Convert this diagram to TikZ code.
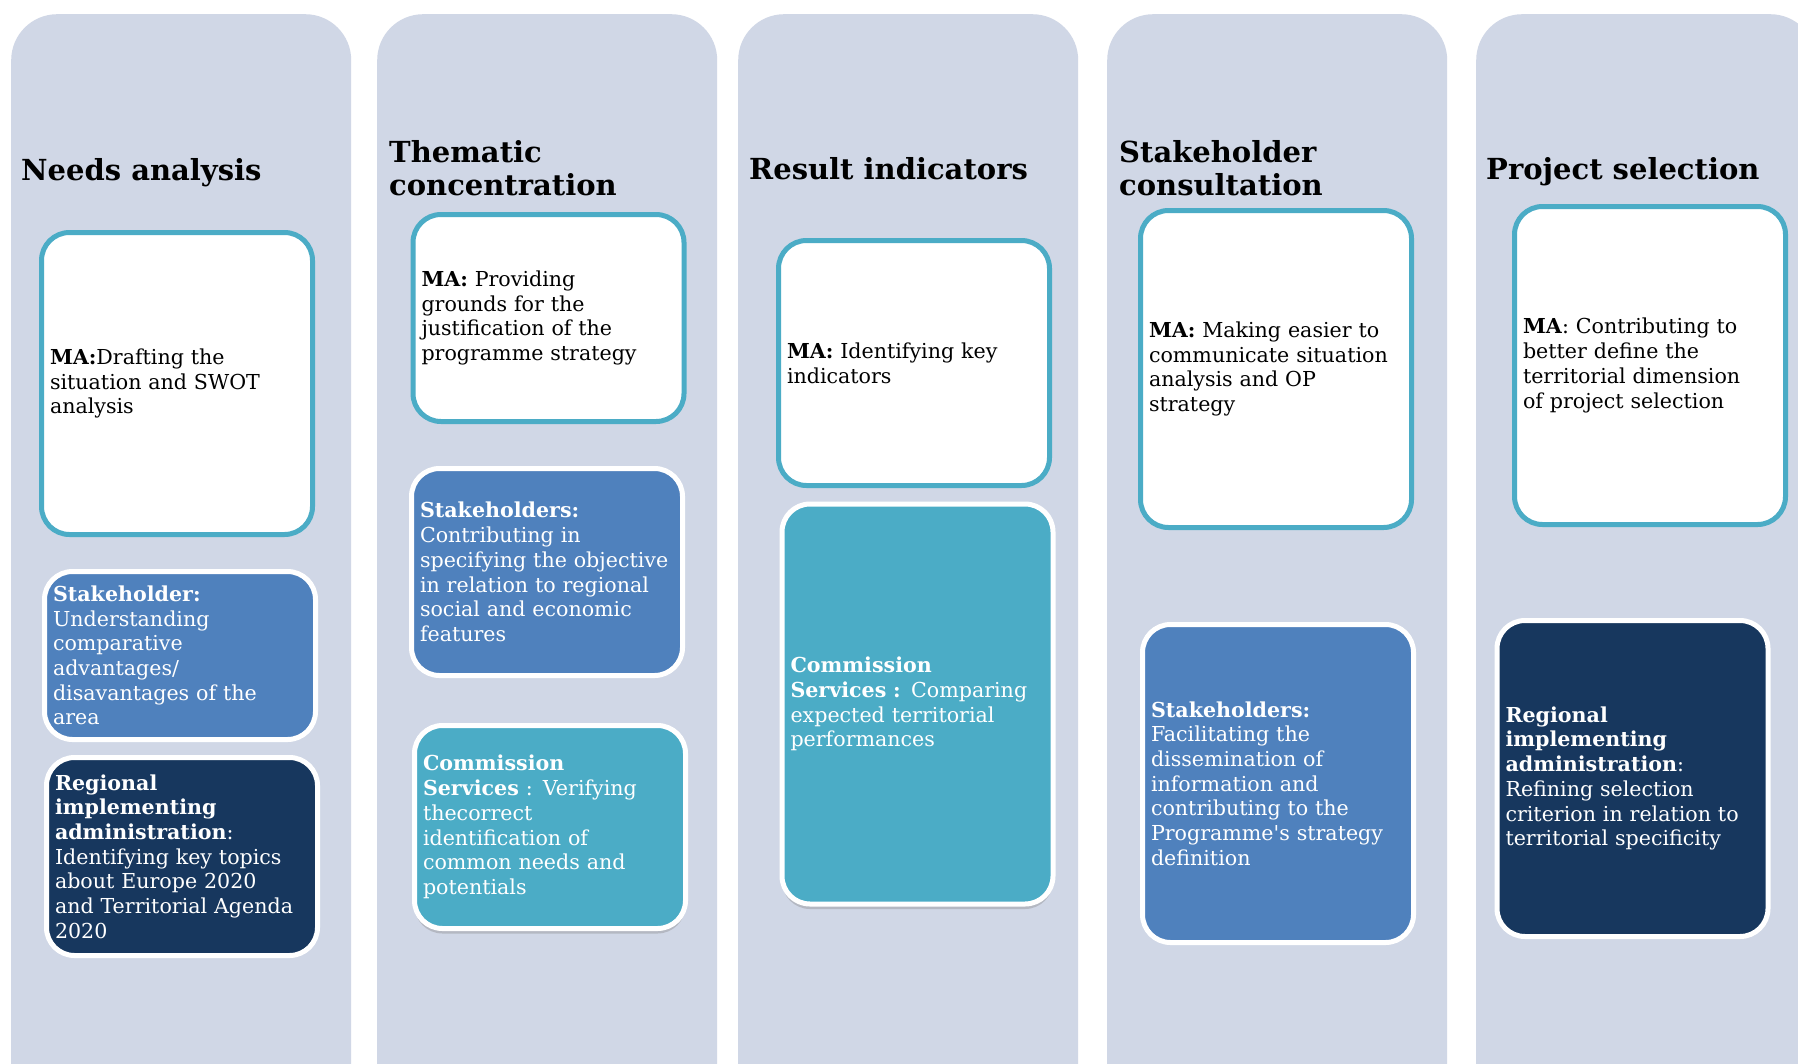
\documentclass[tikz,border=0pt]{standalone}
\usepackage{fontspec}
\setmainfont{DejaVu Serif}
\usetikzlibrary{positioning, shadows}
\definecolor{lanecolor}{HTML}{D0D7E6}
\definecolor{tealcolor}{HTML}{4BACC6}
\definecolor{bluecolor}{HTML}{4F81BD}
\definecolor{navycolor}{HTML}{17375E}

\begin{document}
\begin{tikzpicture}[x=1pt, y=-1pt,
        % Styles
        lane/.style={
            fill=lanecolor,
            rounded corners=46pt,
            minimum width=340pt,
            minimum height=1100pt,
            anchor=north west,
            inner sep=0pt
        },
        titletext/.style={
            anchor=base west,
            align=left,
            inner sep=0pt,
            font=\fontsize{29}{33}\selectfont\bfseries
        },
        box/.style={
            rounded corners=28pt,
            line width=5pt,
            text width=254pt,
            align=left,
            inner xsep=8.5pt,
            inner ysep=0pt,
            font=\fontsize{20.6}{24.7}\selectfont
        },
        mabox/.style={box, draw=tealcolor, fill=white},
        stakebox/.style={box, draw=white, fill=bluecolor, text=white},
        regbox/.style={box, draw=white, fill=navycolor, text=white},
        combox/.style={box, draw=white, fill=tealcolor, text=white,
            drop shadow={opacity=0.35, shadow xshift=0pt, shadow yshift=-5pt}}
    ]

    \fill[white] (0,0) rectangle (1798,1063);
    \useasboundingbox (0,0) rectangle (1798,1063);

    % Columns
    \node[lane] (lane1) at (11,14) {};
    \node[lane] (lane2) at (377,14) {};
    \node[lane] (lane3) at (738,14) {};
    \node[lane] (lane4) at (1107,14) {};
    \node[lane] (lane5) at (1476,14) {};

    % Titles
    \node[titletext] (needs) at (21,180) {Needs analysis};
    \node[titletext] (thematic) at (389,195) {Thematic\\concentration};
    \node[titletext] (result) at (749,179) {Result indicators};
    \node[titletext] (consult) at (1119,195) {Stakeholder\\consultation};
    \node[titletext] (project) at (1486,179) {Project selection};

    % Boxes
    \node[mabox, minimum height=302pt] (ma-needs) at (177,383.5)
        {\textbf{MA:}Drafting the\\situation and SWOT\\analysis};
    \node[stakebox, minimum height=168pt] (st-needs) at (180,655.5)
        {\textbf{Stakeholder:}\\Understanding\\comparative\\advantages/\\disavantages of the\\area};
    \node[regbox, minimum height=198pt] (rg-needs) at (182,856.5)
        {\textbf{Regional}\\\textbf{implementing}\\\textbf{administration}:\\Identifying key topics\\about Europe 2020\\and Territorial Agenda\\2020};

    \node[mabox, minimum height=207pt] (ma-thematic) at (548.5,318)
        {\textbf{MA:} Providing\\grounds for the\\justification of the\\programme strategy};
    \node[stakebox, minimum height=207pt] (st-thematic) at (547,572)
        {\textbf{Stakeholders:}\\Contributing in\\specifying the objective\\in relation to regional\\social and economic\\features};
    \node[combox, minimum height=203pt] (cs-thematic) at (550,827)
        {\textbf{Commission}\\\textbf{Services} : Verifying\\thecorrect\\identification of\\common needs and\\potentials};

    \node[mabox, minimum height=245pt] (ma-result) at (914,363)
        {\textbf{MA:} Identifying key\\indicators};
    \node[combox, minimum height=400pt] (cs-result) at (917.5,704)
        {\textbf{Commission}\\\textbf{Services :} Comparing\\expected territorial\\performances};

    \node[mabox, minimum height=317pt] (ma-consult) at (1276,369)
        {\textbf{MA:} Making easier to\\communicate situation\\analysis and OP\\strategy};
    \node[stakebox, minimum height=318pt] (st-consult) at (1278,783.5)
        {\textbf{Stakeholders:}\\Facilitating the\\dissemination of\\information and\\contributing to the\\Programme\textquotesingle s strategy\\definition};

    \node[mabox, minimum height=318pt] (ma-project) at (1650,365.5)
        {\textbf{MA}: Contributing to\\better define the\\territorial dimension\\of project selection};
    \node[regbox, minimum height=316pt] (rg-project) at (1632.5,778.5)
        {\textbf{Regional}\\\textbf{implementing}\\\textbf{administration}:\\Refining selection\\criterion in relation to\\territorial specificity};

\end{tikzpicture}
\end{document}
